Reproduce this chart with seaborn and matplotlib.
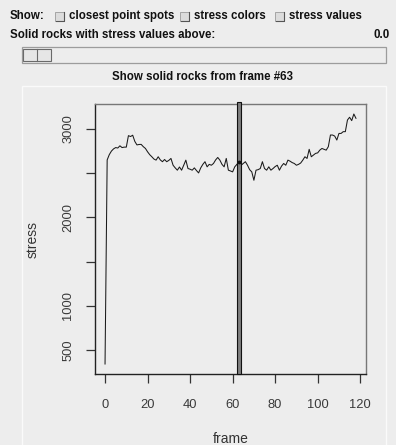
import matplotlib
matplotlib.use("Agg")
import matplotlib.pyplot as plt
from matplotlib.patches import Rectangle
import numpy as np
import pandas as pd
import seaborn as sns

# stress recorded for every simulation frame
frames = list(range(0, 119))
stress = [
    340, 2650, 2710, 2750, 2775, 2790, 2785, 2810, 2790, 2795,
    2795, 2925, 2915, 2930, 2860, 2820, 2825, 2826, 2800, 2780,
    2742, 2710, 2686, 2660, 2648, 2686, 2650, 2630, 2655, 2630,
    2645, 2667, 2590, 2560, 2534, 2570, 2534, 2590, 2648, 2553,
    2545, 2534, 2560, 2530, 2503, 2560, 2600, 2630, 2572, 2600,
    2590, 2610, 2650, 2678, 2648, 2600, 2572, 2667, 2534, 2525,
    2515, 2572, 2600, 2630, 2590, 2610, 2630, 2590, 2540, 2515,
    2420, 2534, 2540, 2553, 2630, 2553, 2534, 2572, 2534, 2553,
    2575, 2590, 2534, 2580, 2610, 2590, 2648, 2636, 2620, 2610,
    2590, 2600, 2615, 2648, 2686, 2667, 2770, 2686, 2705, 2724,
    2730, 2761, 2780, 2770, 2761, 2800, 2932, 2932, 2920, 2875,
    2950, 2950, 2970, 2970, 3102, 3133, 3095, 3170, 3121,
]
selected_frame = 63
threshold_text = "0.0"
x_ticks = [0, 20, 40, 60, 80, 100, 120]
y_ticks = [500, 1000, 1500, 2000, 2500, 3000]
y_tick_labels = ["500", "1000", "", "2000", "", "3000"]
options = ["closest point spots", "stress colors", "stress values"]

BG = "#ededed"
W, H = 396, 445

plt.rcParams["font.family"] = ["Liberation Sans", "DejaVu Sans"]

fig = plt.figure(figsize=(W / 100, H / 100), dpi=100, facecolor=BG)


def fx(x):
    return x / W


def fy(y):
    return 1 - y / H


def frect(x0, y0, x1, y1, **kw):
    r = Rectangle((fx(x0), fy(y1)), fx(x1) - fx(x0), fy(y0) - fy(y1),
                  transform=fig.transFigure, **kw)
    fig.add_artist(r)
    return r


ui_font = dict(fontsize=8.3, fontweight="bold", color="#111111")

# option row with check boxes
fig.text(fx(10), fy(16), "Show:", ha="left", va="center", **ui_font)
box_x = [55, 180, 275]
for bx, label in zip(box_x, options):
    frect(bx, 12, bx + 9, 21, facecolor="#dcdcdc", edgecolor="#9a9a9a", lw=0.6)
    fig.add_artist(plt.Line2D([fx(bx + 1), fx(bx + 9), fx(bx + 9)],
                              [fy(21), fy(21), fy(12)],
                              transform=fig.transFigure, color="#555555", lw=0.8))
    fig.text(fx(bx + 14), fy(16), label, ha="left", va="center", **ui_font)

fig.text(fx(10), fy(35), "Solid rocks with stress values above:",
         ha="left", va="center", **ui_font)
fig.text(fx(390), fy(35), threshold_text, ha="right", va="center", **ui_font)

# slider
frect(22, 47, 386, 63, facecolor=BG, edgecolor="#9c9c9c", lw=0.9)
frect(23, 49, 51, 61, facecolor="#e6e6e6", edgecolor="#6a6a6a", lw=0.8)
fig.add_artist(plt.Line2D([fx(37), fx(37)], [fy(49), fy(61)],
                          transform=fig.transFigure, color="#6a6a6a", lw=0.8))

fig.text(fx(203), fy(77), f"Show solid rocks from frame #{selected_frame}",
         ha="center", va="center", **ui_font)

# plot panel, kept behind the axes
frect(22, 86, 386, 450, facecolor=BG, edgecolor="#fafafa", lw=1.0, zorder=-5)

ax = fig.add_axes([fx(95), fy(374), fx(366) - fx(95), fy(104) - fy(374)])
ax.set_facecolor(BG)

df = pd.DataFrame({"frame": frames, "stress": stress})
sns.lineplot(data=df, x="frame", y="stress", ax=ax, color="#1a1a1a",
             linewidth=0.75, estimator=None)

ax.set_xlim(-4.72, 122.72)
ymin, ymax = min(stress), max(stress)
rng = ymax - ymin
ax.set_ylim(ymin - 0.04 * rng, ymax + 0.04 * rng)

# marker bar for the chosen frame
ax.axvspan(selected_frame - 1, selected_frame + 1, ymin=0, ymax=1.006,
           facecolor="#7f7f7f", edgecolor="#111111", lw=0.8, clip_on=False,
           zorder=3)
ax.scatter([selected_frame], [stress[selected_frame]], s=3, color="#111111",
           zorder=4)

ax.set_xticks(x_ticks)
ax.set_yticks(y_ticks)
ax.set_yticklabels(y_tick_labels, rotation=90, va="center")
ax.tick_params(axis="both", direction="out", length=6.5, width=0.9,
               color="#333333", labelcolor="#3a3a3a", labelsize=9.3)
ax.tick_params(axis="x", pad=11.5)
ax.tick_params(axis="y", pad=8.5)

for side in ["left", "bottom"]:
    ax.spines[side].set_color("#222222")
    ax.spines[side].set_linewidth(1.0)
for side in ["top", "right"]:
    ax.spines[side].set_color("#777777")
    ax.spines[side].set_linewidth(1.0)

ax.set_xlabel("frame", fontsize=10, color="#333333")
ax.set_ylabel("stress", fontsize=10, color="#333333")
ax.xaxis.label.set_va("center")
ax.yaxis.label.set_va("center")
ax.xaxis.set_label_coords(0.5, (374 - 439) / 270)
ax.yaxis.set_label_coords((33 - 95) / 271, 0.5)

fig.savefig("out.png", dpi=100, facecolor=BG)
